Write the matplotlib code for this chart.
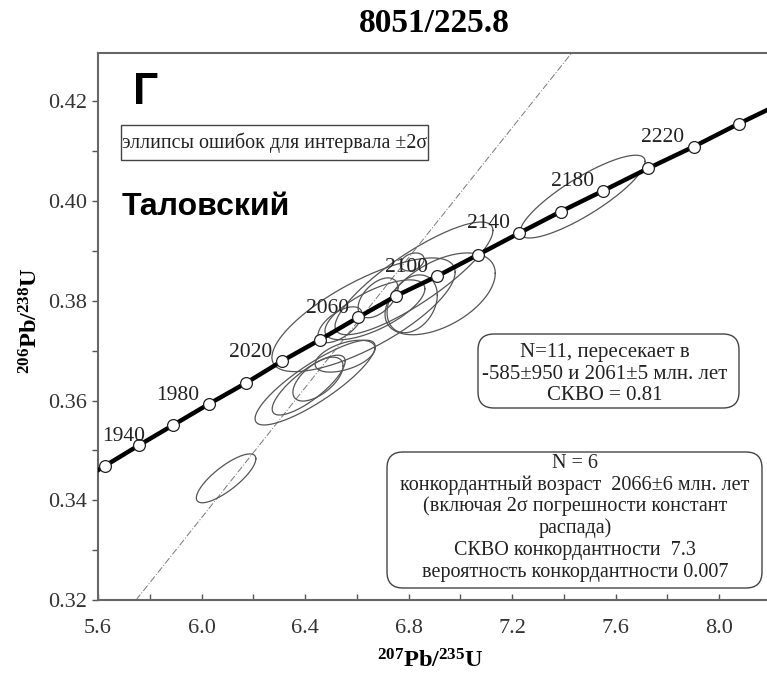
"""U-Pb concordia diagram, sample 8051/225.8 (Таловский)."""

import numpy as np
import matplotlib
matplotlib.use("Agg")
import matplotlib.pyplot as plt
from matplotlib.patches import FancyBboxPatch, Rectangle
from matplotlib.transforms import IdentityTransform
from matplotlib.ticker import MultipleLocator, FormatStrFormatter

W, H = 767, 675

plt.rcParams["font.family"] = ["Liberation Serif", "DejaVu Serif"]
plt.rcParams["mathtext.fontset"] = "custom"
plt.rcParams["mathtext.rm"] = "Liberation Serif"
plt.rcParams["mathtext.bf"] = "Liberation Serif:bold"

# concordia points (Ma -> 207Pb/235U, 206Pb/238U)
conc_age = [1900, 1920, 1940, 1960, 1980, 2000, 2020, 2040, 2060, 2080,
            2100, 2120, 2140, 2160, 2180, 2200, 2220, 2240, 2260]
conc_x = [5.495, 5.627, 5.757, 5.891, 6.028, 6.171, 6.310, 6.458, 6.606, 6.752,
          6.909, 7.067, 7.228, 7.388, 7.553, 7.727, 7.901, 8.075, 8.255]
conc_y = [0.3427, 0.3469, 0.3510, 0.3551, 0.3593, 0.3635, 0.3679, 0.3722, 0.3767, 0.3810,
          0.3849, 0.3892, 0.3936, 0.3979, 0.4021, 0.4066, 0.4109, 0.4155, 0.4200]
label_ages = [1940, 1980, 2020, 2060, 2100, 2140, 2180, 2220]

# discordia through the intercepts
disc_x = [5.747, 7.430]
disc_y = [0.320, 0.4297]

# error ellipses: centre, half-extent in x and y, correlation
ell_x = [6.095, 6.450, 6.439, 6.414, 6.555, 6.626, 6.821, 6.922, 6.814, 6.682, 6.535, 6.814, 6.670, 7.4725]
ell_y = [0.3444, 0.3643, 0.3636, 0.3631, 0.3689, 0.3772, 0.3845, 0.3814, 0.3794, 0.3806, 0.3752, 0.3878, 0.3782, 0.4009]
ell_sx = [0.115, 0.097, 0.232, 0.141, 0.116, 0.354, 0.305, 0.213, 0.097, 0.077, 0.085, 0.046, 0.193, 0.2415]
ell_sy = [0.0049, 0.0044, 0.0085, 0.0060, 0.0032, 0.0114, 0.0113, 0.0082, 0.0058, 0.0040, 0.0036, 0.0018, 0.0060, 0.0083]
ell_rho = [0.8, 0.6, 0.85, 0.8, 0.5, 0.75, 0.85, 0.5, 0.3, 0.5, 0.6, 0.3, 0.7, 0.85]

box1_lines = ["N=11, пересекает в", "-585±950 и 2061±5 млн. лет", "СКВО = 0.81"]
box2_lines = ["N = 6", "конкордантный возраст  2066±6 млн. лет",
              "(включая 2σ погрешности констант", "распада)",
              "СКВО конкордантности  7.3", "вероятность конкордантности 0.007"]


def fx(px):
    return px / W


def fy(py):
    return 1 - py / H


fig = plt.figure(figsize=(W / 100, H / 100), dpi=100)
ax = fig.add_axes([fx(98), fy(600), (W - 98) / W, (600 - 53) / H])
ax.set_xlim(5.6, 8.185)
ax.set_ylim(0.32, 0.4297)

t = np.linspace(0, 2 * np.pi, 200)
for cx, cy, sx, sy, r in zip(ell_x, ell_y, ell_sx, ell_sy, ell_rho):
    ax.plot(cx + sx * np.cos(t), cy + sy * (r * np.cos(t) + np.sqrt(1 - r * r) * np.sin(t)),
            color="#555555", lw=0.9, zorder=2)

ax.plot(disc_x, disc_y, color="#777777", lw=0.7, ls=(0, (7, 2, 1, 2)), zorder=1)

ax.plot(conc_x, conc_y, color="black", lw=3.2, zorder=3)
ax.plot(conc_x, conc_y, ls="none", marker="o", ms=8.5, mfc="white", mec="#222222",
        mew=0.9, zorder=4)

labels = []
for age, x, y in zip(conc_age, conc_x, conc_y):
    if age in label_ages:
        labels.append(ax.annotate(str(age), (x, y), xytext=(-6.5, 6.5),
                                  textcoords="offset points", ha="right", va="center",
                                  fontsize=15.5, color="#222222", zorder=5))

ax.xaxis.set_major_locator(MultipleLocator(0.4))
ax.xaxis.set_minor_locator(MultipleLocator(0.2))
ax.yaxis.set_major_locator(MultipleLocator(0.02))
ax.yaxis.set_minor_locator(MultipleLocator(0.01))
ax.xaxis.set_major_formatter(FormatStrFormatter("%.1f"))
ax.yaxis.set_major_formatter(FormatStrFormatter("%.2f"))
ax.tick_params(axis="x", which="both", direction="in", length=4, width=1,
               color="#555555", labelsize=16, labelcolor="#333333", pad=14)
ax.tick_params(axis="y", which="both", direction="out", length=4, width=1,
               color="#555555", labelsize=16, labelcolor="#333333", pad=4)
for s in ("left", "bottom", "top"):
    ax.spines[s].set_color("#666666")
    ax.spines[s].set_linewidth(1.5)
ax.spines["right"].set_visible(False)

# titles and labels
fig.text(fx(434), fy(23), "8051/225.8", ha="center", va="center",
         fontsize=24, fontweight="bold")
fig.text(fx(430), fy(661), r"$\mathbf{^{207}Pb/^{235}U}$", ha="center", va="center",
         fontsize=17.5)
fig.text(fx(31), fy(321), r"$\mathbf{^{206}Pb/^{238}U}$", ha="center", va="center",
         fontsize=17.5, rotation=90)
fig.text(fx(133), fy(93), "Г", ha="left", va="center", fontsize=32,
         fontweight="bold", family="Liberation Sans")
fig.text(fx(122), fy(207), "Таловский", ha="left", va="center", fontsize=23,
         fontweight="bold", family="Liberation Sans")

# legend box
fig.add_artist(Rectangle((121, H - 160), 428 - 121, 35, transform=IdentityTransform(),
                         fill=False, ec="#444444", lw=1))
fig.text(fx(275), fy(142.5), "эллипсы ошибок для интервала ±2σ", ha="center",
         va="center", fontsize=14.4, color="#222222")

# result boxes
for x0, y0, x1, y1 in [(478, 334, 739, 408), (387, 452, 762, 588)]:
    fig.add_artist(FancyBboxPatch((x0, H - y1), x1 - x0, y1 - y0,
                                  boxstyle="round,pad=0,rounding_size=16",
                                  transform=IdentityTransform(), fc="white",
                                  ec="#444444", lw=1, zorder=6))
for i, line in enumerate(box1_lines):
    fig.text(fx(605), fy(353 + 21.5 * i), line, ha="center", va="center",
             fontsize=15, color="#222222", zorder=7)
for i, line in enumerate(box2_lines):
    fig.text(fx(575), fy(463 + 21.8 * i), line, ha="center", va="center",
             fontsize=14.5, color="#222222", zorder=7)

# keep curve labels inside the frame, as the original does
fig.canvas.draw()
renderer = fig.canvas.get_renderer()
ax_left = ax.get_window_extent(renderer).x0
for lab in labels:
    bb = lab.get_window_extent(renderer)
    if bb.x0 < ax_left + 4:
        shift = (ax_left + 4 - bb.x0) * 72 / fig.dpi
        ox, oy = lab.xyann
        lab.xyann = (ox + shift, oy)

fig.savefig("out.png", dpi=100)
